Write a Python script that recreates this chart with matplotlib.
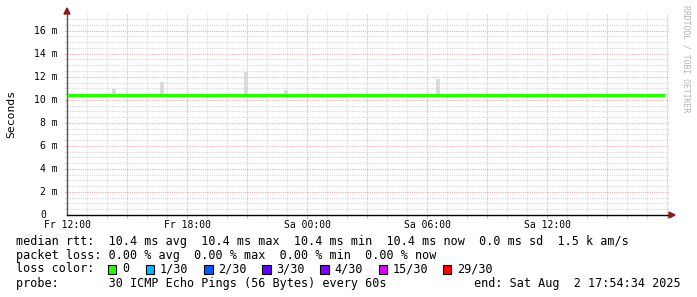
import matplotlib
matplotlib.use("Agg")
import matplotlib.pyplot as plt
from matplotlib.patches import Rectangle, Polygon

# ---------------- data ----------------
# hours since Fr 12:00
x_tick_hours = [0, 6, 12, 18, 24]
x_tick_labels = ["Fr 12:00", "Fr 18:00", "Sa 00:00", "Sa 06:00", "Sa 12:00"]
y_tick_values = [0, 2, 4, 6, 8, 10, 12, 14, 16]
y_tick_labels = ["0", "2 m", "4 m", "6 m", "8 m", "10 m", "12 m", "14 m", "16 m"]

median_hours = [0.0, 29.9]
median_ms = [10.4, 10.4]

spike_hours = [2.33, 4.75, 8.93, 10.94, 18.55]
spike_top_ms = [10.95, 11.55, 12.4, 10.85, 11.8]

base_smoke_start = [0.0, 6.0, 14.2, 17.3, 19.4, 24.3, 29.0]
base_smoke_end = [1.65, 7.3, 15.8, 18.5, 20.0, 25.3, 29.65]
base_smoke_top = [10.52, 10.52, 10.52, 10.52, 10.52, 10.52, 10.52]

rtt_values = [10.4, 10.4, 10.4, 10.4, 0.0]
rtt_names = ["avg", "max", "min", "now", "sd"]
am_per_s = "1.5 k"
loss_values = [0.00, 0.00, 0.00, 0.00]
loss_names = ["avg", "max", "min", "now"]

loss_labels = ["0", "1/30", "2/30", "3/30", "4/30", "15/30", "29/30"]
loss_colors = ["#26ff00", "#00b8ff", "#0059ff", "#5e00ff", "#7e00ff", "#dd00ff", "#ff0000"]

probe_text = "30 ICMP Echo Pings (56 Bytes) every 60s"
end_text = "end: Sat Aug  2 17:54:34 2025"

# ---------------- figure ----------------
W, H = 697, 297
fig = plt.figure(figsize=(W / 100, H / 100), dpi=100)
fig.patch.set_facecolor("white")

def px(x, y):
    return x / W, 1 - y / H

left, right, top, bottom = 67, 669, 14, 215
ax = fig.add_axes([left / W, (H - bottom) / H, (right - left) / W, (bottom - top) / H])
ax.set_xlim(0, 30.1)
ax.set_ylim(0, 17.45)
ax.set_facecolor("white")

mono = "DejaVu Sans Mono"
minor_c = "#d8d8d8"
major_c = "#ebb0b0"
dot = (0, (1, 1))

# grid
for i in range(1, 31):
    c = major_c if i % 3 == 0 else minor_c
    ax.axvline(i, color=c, lw=0.8, ls=dot, zorder=1)
    ax.plot([i, i], [0, -0.28], color=c, lw=0.8, clip_on=False, zorder=1)
for j in range(1, 35):
    v = j * 0.5
    if v > 17.4:
        break
    c = major_c if j % 4 == 0 else minor_c
    ax.axhline(v, color=c, lw=0.8, ls=dot, zorder=1)
    ax.plot([-0.12, 0], [v, v], color=c, lw=0.8, clip_on=False, zorder=1)

# smoke
for s, e, t in zip(base_smoke_start, base_smoke_end, base_smoke_top):
    ax.fill_between([s, e], [10.4, 10.4], [t, t], color="#e4e4e4", lw=0, zorder=2)
ax.bar(spike_hours, [t - 10.4 for t in spike_top_ms], bottom=10.4, width=0.2,
       color="#dadada", lw=0, zorder=2)

# median
ax.plot(median_hours, median_ms, color="#26ff00", lw=2.3, zorder=3, solid_capstyle="butt")

# axes
for sp in ["top", "right"]:
    ax.spines[sp].set_visible(False)
ax.spines["left"].set_color("#555555")
ax.spines["left"].set_linewidth(1.0)
ax.spines["bottom"].set_color("black")
ax.spines["bottom"].set_linewidth(1.0)
ax.set_xticks([])
ax.set_yticks([])

# arrows
fig.patches.append(Polygon([px(64, 14), px(70, 14), px(67, 8)], closed=True,
                           transform=fig.transFigure, color="#8b1a1a", zorder=5))
fig.patches.append(Polygon([px(669, 212), px(669, 218), px(675, 215)], closed=True,
                           transform=fig.transFigure, color="#8b1a1a", zorder=5))

# tick labels
for v, lab in zip(y_tick_values, y_tick_labels):
    yy = 215 - v * (201 / 17.45)
    xr = 58 if " " in lab else 58 - 2 * 5.85
    fig.text(*px(xr, yy), lab, ha="right", va="center", fontsize=7, family=mono)
for hh, lab in zip(x_tick_hours, x_tick_labels):
    xx = 67 + hh * (602 / 30.1)
    fig.text(*px(xx, 225), lab, ha="center", va="center", fontsize=7, family=mono)

fig.text(*px(11, 114), "Seconds", rotation=90, ha="center", va="center", fontsize=8.2, family=mono)
fig.text(*px(686, 59), "RRDTOOL / TOBI OETIKER", rotation=270, ha="center", va="center",
         fontsize=5.9, family=mono, color="#b4b4b4")

# legend
fs = 8.5
line1 = "median rtt:  " + "  ".join(f"{v:.1f} ms {n}" for v, n in zip(rtt_values, rtt_names)) + f"  {am_per_s} am/s"
line2 = "packet loss: " + "  ".join(f"{v:.2f} % {n}" for v, n in zip(loss_values, loss_names))
fig.text(*px(16, 241), line1, ha="left", va="center", fontsize=fs, family=mono)
fig.text(*px(16, 255), line2, ha="left", va="center", fontsize=fs, family=mono)
fig.text(*px(16, 269), "loss color:", ha="left", va="center", fontsize=fs, family=mono)
sq_x = [107.8, 145.6, 204.0, 262.3, 320.2, 378.6, 442.7]
for xs, lab, col in zip(sq_x, loss_labels, loss_colors):
    x0, y0 = px(xs, 273.5)
    fig.patches.append(Rectangle((x0, y0), 8.5 / W, 9 / H, transform=fig.transFigure,
                                 facecolor=col, edgecolor="black", lw=0.8, zorder=5))
    fig.text(*px(xs + 14.3, 269), lab, ha="left", va="center", fontsize=fs, family=mono)
fig.text(*px(16, 283), "probe:       " + probe_text, ha="left", va="center", fontsize=fs, family=mono)
fig.text(*px(681, 283), end_text, ha="right", va="center", fontsize=fs, family=mono)

fig.savefig("out.png", dpi=100, facecolor="white")
